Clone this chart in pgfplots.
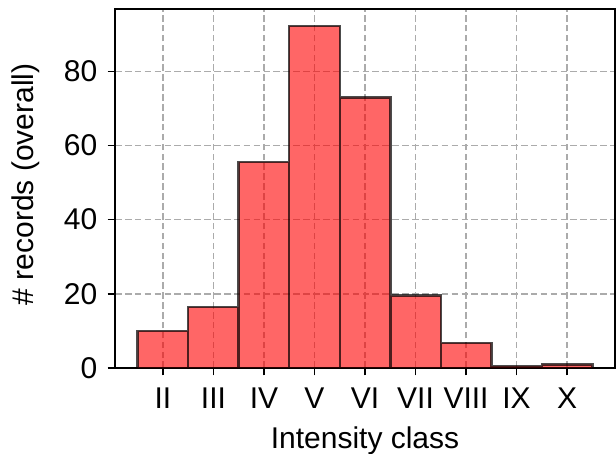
\documentclass[border=0pt]{standalone}
\usepackage{fontspec}
\setmainfont{Liberation Sans}
\usepackage{pgfplots}
\pgfplotsset{compat=1.18}
\begin{document}
\fontsize{15}{18}\selectfont
\begin{tikzpicture}
\begin{axis}[
  name=ax,
  scale only axis,
  width=250pt, height=179.5pt,
  xmin=-0.95, xmax=8.95,
  ymin=0, ymax=96.8,
  xtick={0,1,2,3,4,5,6,7,8},
  xticklabels={II,III,IV,V,VI,VII,VIII,IX,X},
  ytick={0,20,40,60,80},
  tick align=outside,
  tick pos=left,
  major tick length=3.7pt,
  /pgf/number format/assume math mode=true,
  tick label style={font=\fontsize{15}{18}\selectfont},
  xticklabel style={yshift=-0.8pt},
  label style={font=\fontsize{15}{18}\selectfont},
  xlabel={Intensity class},
  ylabel={\# records (overall)},
  xlabel style={at={(axis description cs:0.5,-0.2234)}, anchor=base},
  ylabel style={at={(axis description cs:-0.164,0.512)}, anchor=base},
  axis line style={line width=0.8pt},
  every tick/.style={line width=0.8pt, black},
  grid=major,
  major grid style={black!33, line width=0.75pt, dash pattern=on 3.3pt off 1.65pt},
  ybar, bar width=1, bar shift=0pt,
]
\addplot[fill=red, fill opacity=0.6, draw=black, draw opacity=0.7, line width=1.25pt]
coordinates {(0,10) (1,16.4) (2,55.5) (3,92.2) (4,73.0) (5,19.5) (6,6.8) (7,0.5) (8,1.0)};
\end{axis}
\pgfresetboundingbox
\path ([xshift=-57.5pt,yshift=-42.5pt]ax.south west) rectangle ([xshift=0.5pt,yshift=4.5pt]ax.north east);
\end{tikzpicture}
\end{document}
